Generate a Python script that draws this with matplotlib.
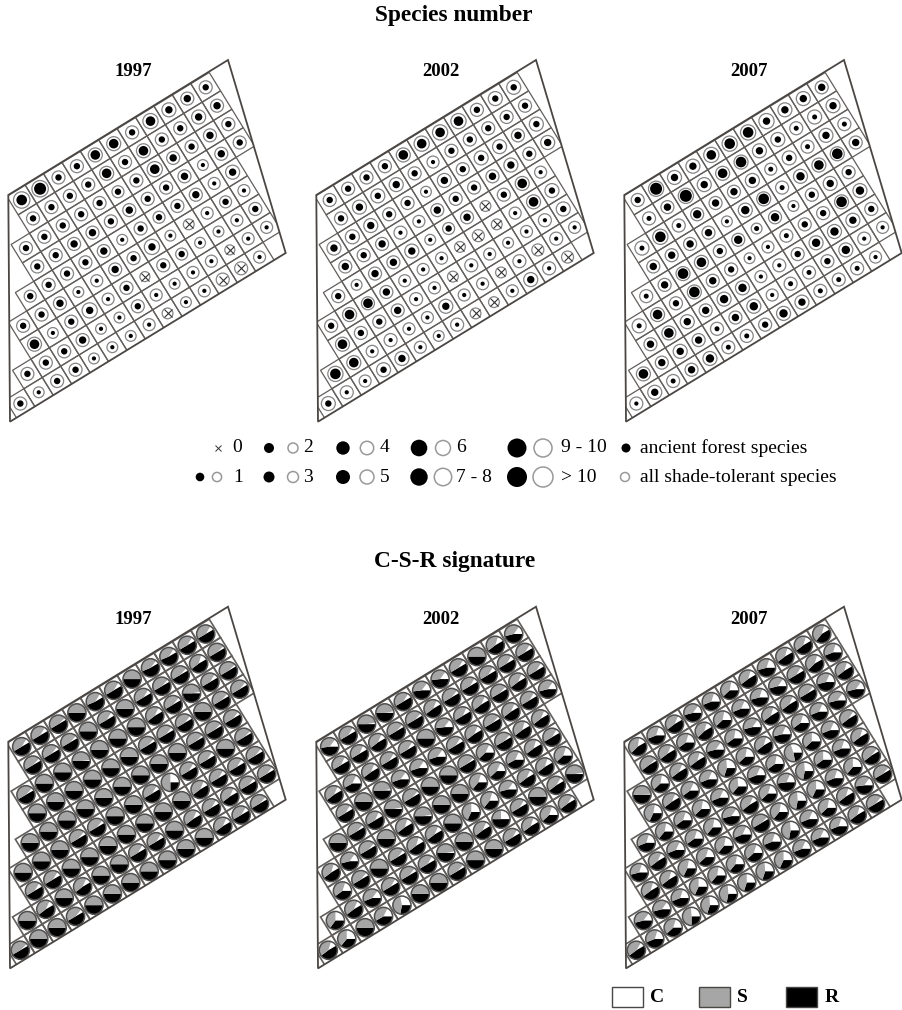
import matplotlib
matplotlib.use("Agg")
import matplotlib.pyplot as plt
from matplotlib.patches import Circle, Polygon, Rectangle, Wedge

plt.rcParams['font.family'] = ['Liberation Serif', 'DejaVu Serif']

years = ["1997", "2002", "2007"]

# first column of each plot row, counted from the top left plot
row_start = [0, 0, -1, -1, -2, -3, -3, -4, -5]

# species number per plot: ancient forest species
ancient_1997 = [
    [7, 9, 3, 3, 6, 6, 3, 6, 4, 4, 3],
    [3, 3, 3, 3, 6, 3, 6, 3, 3, 4, 4],
    [3, 3, 3, 3, 3, 3, 3, 6, 4, 3, 4, 3],
    [3, 3, 4, 4, 3, 4, 3, 3, 4, 1, 4, 3],
    [3, 3, 3, 3, 4, 1, 3, 3, 3, 4, 1, 4],
    [3, 3, 4, 1, 1, 4, 3, 4, 1, 0, 1, 3, 1],
    [6, 1, 3, 4, 1, 3, 0, 3, 3, 1, 1, 1, 3],
    [3, 3, 3, 4, 1, 1, 3, 1, 1, 1, 1, 0, 1, 1],
    [3, 1, 3, 3, 1, 1, 1, 1, 0, 1, 1, 0, 0, 1],
]
ancient_2002 = [
    [3, 3, 3, 3, 6, 6, 6, 6, 3, 3, 3],
    [3, 4, 3, 4, 3, 1, 3, 3, 3, 3, 3],
    [4, 3, 4, 3, 3, 1, 4, 3, 3, 3, 4, 3],
    [4, 3, 4, 1, 1, 4, 3, 3, 4, 4, 3, 4],
    [3, 1, 4, 4, 4, 1, 3, 4, 0, 3, 6, 1],
    [3, 6, 6, 4, 1, 1, 1, 0, 0, 0, 1, 6, 3],
    [6, 3, 3, 4, 1, 1, 0, 1, 1, 1, 1, 1, 3],
    [7, 6, 1, 1, 1, 1, 4, 1, 1, 0, 1, 0, 1, 1],
    [3, 1, 1, 3, 4, 1, 1, 1, 0, 0, 1, 4, 1, 0],
]
ancient_2007 = [
    [3, 9, 4, 4, 6, 7, 7, 4, 4, 4, 4],
    [2, 4, 9, 4, 6, 7, 4, 3, 2, 2, 4],
    [2, 7, 2, 5, 4, 4, 4, 2, 3, 2, 4, 2],
    [4, 4, 4, 4, 1, 5, 7, 2, 5, 6, 7, 4],
    [2, 4, 7, 6, 3, 5, 2, 5, 1, 3, 4, 3],
    [2, 6, 3, 7, 4, 3, 1, 1, 2, 3, 3, 7, 5],
    [4, 6, 4, 4, 5, 5, 1, 1, 3, 5, 5, 4, 3],
    [6, 4, 4, 4, 2, 4, 5, 1, 2, 2, 3, 5, 1, 1],
    [1, 4, 2, 4, 5, 2, 2, 3, 5, 4, 2, 2, 2, 1],
]

# species number per plot: all shade-tolerant species
shade_1997 = [
    [11, 11, 8, 8, 9, 9, 8, 10, 9, 8, 8],
    [8, 8, 8, 8, 9, 8, 9, 8, 8, 9, 8],
    [8, 8, 8, 8, 8, 7, 8, 10, 8, 8, 8, 8],
    [8, 8, 8, 8, 8, 8, 8, 8, 8, 6, 8, 8],
    [7, 8, 8, 8, 8, 6, 8, 7, 8, 8, 7, 9],
    [8, 8, 8, 6, 7, 8, 8, 10, 6, 6, 7, 7, 7],
    [9, 6, 8, 10, 7, 8, 5, 8, 7, 6, 6, 7, 8],
    [8, 8, 8, 8, 6, 6, 8, 7, 6, 7, 7, 5, 7, 7],
    [8, 6, 8, 8, 6, 6, 6, 7, 6, 6, 7, 8, 8, 7],
]
shade_2002 = [
    [8, 8, 8, 8, 9, 10, 10, 10, 8, 9, 9],
    [8, 9, 9, 9, 8, 7, 8, 8, 8, 8, 8],
    [9, 9, 9, 8, 8, 6, 9, 8, 9, 9, 8, 9],
    [8, 8, 8, 8, 7, 8, 8, 8, 8, 9, 8, 9],
    [8, 6, 8, 8, 9, 6, 7, 8, 6, 8, 9, 7],
    [8, 9, 8, 8, 7, 7, 7, 6, 7, 6, 7, 9, 9],
    [9, 8, 8, 8, 8, 7, 6, 8, 7, 6, 7, 8, 9],
    [10, 9, 7, 8, 7, 7, 9, 7, 7, 6, 8, 7, 8, 7],
    [9, 8, 7, 9, 9, 7, 6, 8, 6, 6, 7, 9, 8, 7],
]
shade_2007 = [
    [8, 10, 9, 9, 10, 10, 10, 10, 9, 9, 8],
    [8, 8, 10, 9, 9, 9, 9, 9, 8, 9, 9],
    [9, 10, 8, 8, 8, 8, 9, 7, 9, 8, 9, 8],
    [8, 8, 8, 8, 6, 9, 9, 8, 9, 9, 9, 8],
    [8, 8, 9, 9, 8, 8, 6, 8, 6, 8, 9, 8],
    [9, 9, 8, 9, 8, 8, 6, 7, 8, 8, 8, 9, 9],
    [8, 9, 9, 8, 9, 9, 7, 8, 8, 9, 9, 9, 8],
    [9, 8, 9, 8, 8, 8, 9, 7, 8, 8, 8, 9, 8, 7],
    [8, 9, 8, 8, 9, 8, 8, 8, 9, 9, 8, 8, 8, 7],
]

# C-S-R signature, percent of C per plot (S is the remainder)
c_1997 = [
    [8, 8, 4, 0, 8, 8, 0, 6, 8, 8, 8],
    [5, 6, 5, 0, 8, 0, 8, 5, 5, 12, 4],
    [5, 0, 0, 2, 0, 0, 0, 10, 6, 3, 8, 4],
    [0, 0, 0, 0, 0, 0, 5, 6, 6, 0, 5, 6],
    [0, 0, 0, 0, 0, 0, 0, 0, 0, 4, 4, 6],
    [0, 0, 0, 6, 6, 0, 0, 8, 25, 8, 8, 0, 4],
    [8, 8, 0, 0, 0, 0, 0, 0, 0, 10, 8, 8, 6],
    [0, 10, 0, 10, 0, 0, 8, 8, 0, 10, 8, 10, 6, 6],
    [4, 0, 0, 6, 0, 0, 0, 0, 0, 0, 0, 10, 8, 5],
]
r_1997 = [
    [50, 50, 50, 50, 52, 50, 50, 52, 52, 50, 50],
    [50, 50, 50, 50, 50, 50, 50, 50, 50, 48, 50],
    [50, 50, 50, 50, 50, 50, 50, 48, 50, 50, 50, 50],
    [50, 50, 50, 50, 50, 50, 50, 50, 50, 50, 50, 50],
    [50, 50, 50, 50, 50, 50, 50, 50, 50, 50, 50, 50],
    [50, 50, 50, 50, 50, 50, 50, 50, 25, 50, 50, 50, 50],
    [50, 50, 50, 50, 50, 50, 50, 50, 50, 48, 50, 50, 50],
    [50, 48, 50, 48, 50, 50, 50, 50, 50, 48, 50, 48, 50, 50],
    [50, 50, 50, 50, 50, 50, 50, 50, 50, 50, 50, 48, 50, 50],
]
c_2002 = [
    [15, 8, 3, 3, 8, 15, 15, 8, 0, 12, 15],
    [10, 10, 10, 5, 5, 10, 6, 8, 8, 8, 8],
    [10, 18, 10, 8, 8, 0, 15, 10, 10, 5, 10, 8],
    [8, 0, 3, 15, 15, 15, 8, 10, 5, 10, 8, 15],
    [0, 5, 10, 3, 5, 0, 0, 4, 18, 5, 12, 10],
    [12, 15, 5, 2, 12, 3, 0, 0, 20, 18, 18, 12, 8],
    [20, 6, 0, 6, 12, 10, 0, 25, 20, 15, 10, 12, 20],
    [25, 10, 15, 8, 6, 8, 3, 2, 10, 25, 8, 2, 8, 3],
    [12, 25, 0, 18, 28, 0, 0, 5, 0, 0, 8, 12, 20, 8],
]
r_2002 = [
    [48, 50, 50, 50, 50, 48, 48, 50, 50, 48, 46],
    [50, 50, 48, 50, 50, 48, 50, 50, 50, 50, 50],
    [48, 42, 48, 50, 50, 50, 48, 50, 48, 50, 48, 50],
    [50, 50, 50, 45, 45, 45, 50, 48, 50, 48, 50, 46],
    [50, 50, 50, 50, 50, 50, 50, 50, 38, 50, 48, 48],
    [48, 46, 50, 50, 48, 50, 50, 50, 36, 38, 42, 48, 50],
    [40, 50, 50, 50, 48, 48, 50, 32, 36, 46, 48, 48, 38],
    [35, 48, 44, 50, 50, 50, 50, 50, 48, 50, 50, 50, 48, 50],
    [48, 36, 50, 42, 28, 50, 50, 50, 50, 50, 50, 48, 38, 48],
]
c_2007 = [
    [14, 20, 10, 15, 20, 22, 12, 20, 12, 12, 12],
    [4, 10, 20, 12, 22, 18, 20, 15, 8, 12, 20],
    [2, 22, 10, 12, 15, 22, 15, 12, 10, 6, 18, 12],
    [22, 10, 18, 18, 26, 22, 12, 18, 20, 18, 15, 15],
    [20, 22, 20, 22, 18, 26, 18, 22, 30, 25, 18, 8],
    [20, 10, 18, 20, 22, 15, 10, 20, 18, 26, 25, 20, 12],
    [12, 12, 22, 20, 22, 18, 4, 22, 26, 25, 20, 25, 6],
    [15, 15, 20, 25, 22, 22, 20, 20, 26, 18, 22, 12, 15, 5],
    [8, 20, 20, 26, 26, 26, 25, 26, 25, 18, 18, 20, 12, 6],
]
r_2007 = [
    [46, 44, 48, 46, 44, 38, 48, 46, 48, 48, 44],
    [48, 48, 40, 46, 38, 44, 46, 46, 50, 46, 44],
    [50, 38, 48, 48, 46, 40, 46, 48, 48, 50, 46, 48],
    [32, 48, 40, 44, 30, 38, 48, 46, 40, 44, 46, 46],
    [44, 36, 40, 38, 44, 36, 44, 40, 22, 38, 44, 48],
    [46, 48, 44, 40, 36, 46, 48, 38, 48, 28, 40, 44, 48],
    [48, 48, 32, 38, 36, 44, 50, 36, 28, 32, 44, 36, 48],
    [46, 46, 44, 32, 36, 36, 38, 44, 28, 44, 38, 48, 48, 50],
    [48, 44, 38, 25, 30, 28, 30, 30, 32, 44, 44, 44, 48, 50],
]

ancient_all = [ancient_1997, ancient_2002, ancient_2007]
shade_all = [shade_1997, shade_2002, shade_2007]
c_all = [c_1997, c_2002, c_2007]
r_all = [r_1997, r_2002, r_2007]

# legend classes
legend_top = [("0", 0), ("2", 2), ("4", 4), ("6", 6), ("9 - 10", 9)]
legend_bottom = [("1", 1), ("3", 3), ("5", 5), ("7 - 8", 7), ("> 10", 11)]

GRID = "#625e5c"
EDGE = "#4a4644"
GREY = "#a6a6a6"
RING = "#858585"

# size of the grid on the page
u = (18.4, -11.27)
v = (11.33, 18.4)
panel_dx = [0, 308, 616]
species_y = 200.0
csr_y = 746.7


def black_radius(n):
    sizes = {1: 2.1, 2: 2.5, 3: 3.2, 4: 3.7, 5: 4.2, 6: 4.8, 7: 5.3, 8: 5.3, 9: 6.0, 10: 6.0}
    return sizes.get(n, 6.4)


def ring_radius(n):
    sizes = {1: 3.0, 2: 3.6, 3: 4.2, 4: 4.6, 5: 5.0, 6: 5.4, 7: 6.0, 8: 6.5, 9: 7.0, 10: 7.6}
    return sizes.get(n, 8.2)


def cell_center(x0, y0, row, col):
    return x0 + col * u[0] + row * v[0], y0 + col * u[1] + row * v[1]


def draw_frame(ax, dx, dy):
    pts = [(8.3 + dx, dy - 5), (228 + dx, dy - 140), (285.7 + dx, dy + 53), (10 + dx, dy + 221.7)]
    frame = Polygon(pts, closed=True, fill=False, ec=EDGE, lw=1.3, zorder=6)
    ax.add_patch(frame)
    return frame


def draw_cell(ax, cx, cy, frame, lw):
    corners = []
    for a, b in [(-.5, -.5), (.5, -.5), (.5, .5), (-.5, .5)]:
        corners.append((cx + a * u[0] + b * v[0], cy + a * u[1] + b * v[1]))
    cell = Polygon(corners, closed=True, fill=False, ec=GRID, lw=lw, zorder=1)
    ax.add_patch(cell)
    cell.set_clip_path(frame)


def draw_pie(ax, cx, cy, c, r, radius=9.1):
    # drawing axis has y going down, so growing angles run clockwise
    tilt = 30 if (4 <= c <= 14 and r >= 40) else 0
    start = -tilt
    r_end = start + r * 3.6
    c_start = start - c * 3.6
    ax.add_patch(Circle((cx, cy), radius, fc="white", ec="none", zorder=3))
    ax.add_patch(Wedge((cx, cy), radius, start, r_end, fc="black", ec="none", zorder=4))
    ax.add_patch(Wedge((cx, cy), radius, r_end, c_start + 360, fc=GREY, ec="none", zorder=4))
    ax.add_patch(Circle((cx, cy), radius, fill=False, ec="#4f4f4f", lw=1.1, zorder=5))


fig = plt.figure(figsize=(9.02, 10.10), dpi=100)
ax = fig.add_axes([0, 0, 1, 1])
ax.set_xlim(0, 902)
ax.set_ylim(1010, 0)
ax.axis("off")

title_x = [133, 441, 749]
for i, year in enumerate(years):
    dx = panel_dx[i]
    ax.text(title_x[i], 72, year, ha="center", va="center", fontsize=13.5, fontweight="bold")
    ax.text(title_x[i], 619, year, ha="center", va="center", fontsize=13.5, fontweight="bold")
    frame_a = draw_frame(ax, dx, species_y)
    frame_b = draw_frame(ax, dx, csr_y)

    for row, first in enumerate(row_start):
        for k in range(len(ancient_all[i][row])):
            col = first + k
            cx, cy = cell_center(21.7 + dx, species_y, row, col)
            draw_cell(ax, cx, cy, frame_a, 0.9)
            n_a = ancient_all[i][row][k]
            n_s = shade_all[i][row][k]
            ax.add_patch(Circle((cx, cy), ring_radius(n_s), fill=False, ec=RING, lw=0.9, zorder=3))
            if n_a == 0:
                ax.plot([cx], [cy], marker="x", ms=6, mew=0.8, color="#333333", zorder=4)
            else:
                ax.add_patch(Circle((cx, cy), black_radius(n_a), fc="black", ec="none", zorder=4))

            cx, cy = cell_center(21.7 + dx, csr_y, row, col)
            draw_cell(ax, cx, cy, frame_b, 1.2)
            draw_pie(ax, cx, cy, c_all[i][row][k], r_all[i][row][k])

ax.text(375, 15, "Species number", ha="left", va="center", fontsize=16.8, fontweight="bold")
ax.text(374, 561, "C-S-R signature", ha="left", va="center", fontsize=16.8, fontweight="bold")

# size legend
legend_black = {1: 4.3, 2: 5.0, 3: 5.5, 4: 6.7, 5: 7.0, 6: 8.3, 7: 8.7, 9: 9.5, 11: 10.0}
legend_open = {1: 4.6, 2: 5.0, 3: 5.5, 4: 6.7, 5: 7.0, 6: 7.5, 7: 8.7, 9: 9.0, 11: 10.0}
x_black = [200, 269, 343, 419, 517]
x_open = [217, 293, 367, 443, 543]
x_text = [233, 303, 380, 456, 561]
y_top, y_bottom = 448, 477
for j, (label, n) in enumerate(legend_top):
    if n == 0:
        ax.plot([218], [y_top], marker="x", ms=4.5, mew=0.7, color="#333333")
        ax.text(232, y_top, label, ha="left", va="center", fontsize=14)
    else:
        ax.add_patch(Circle((x_black[j], y_top), legend_black[n], fc="black", ec="none"))
        ax.add_patch(Circle((x_open[j], y_top), legend_open[n], fill=False, ec="#999999", lw=1.1))
        ax.text(x_text[j], y_top, label, ha="left", va="center", fontsize=14)
for j, (label, n) in enumerate(legend_bottom):
    ax.add_patch(Circle((x_black[j], y_bottom), legend_black[n], fc="black", ec="none"))
    ax.add_patch(Circle((x_open[j], y_bottom), legend_open[n], fill=False, ec="#999999", lw=1.1))
    ax.text(x_text[j], y_bottom, label, ha="left", va="center", fontsize=14)

ax.add_patch(Circle((626, y_top), 4.5, fc="black", ec="none"))
ax.text(640, y_top, "ancient forest species", ha="left", va="center", fontsize=14)
ax.add_patch(Circle((625, y_bottom), 4.5, fill=False, ec="#999999", lw=1.1))
ax.text(640, y_bottom, "all shade-tolerant species", ha="left", va="center", fontsize=14)

# C S R legend
for x0, col, name, tx in [(612, "white", "C", 650), (699, GREY, "S", 737), (786, "black", "R", 825)]:
    ax.add_patch(Rectangle((x0, 987), 31, 20, fc=col, ec=EDGE, lw=1.0))
    ax.text(tx, 997, name, ha="left", va="center", fontsize=14, fontweight="bold")

fig.savefig("out.png", dpi=100)
